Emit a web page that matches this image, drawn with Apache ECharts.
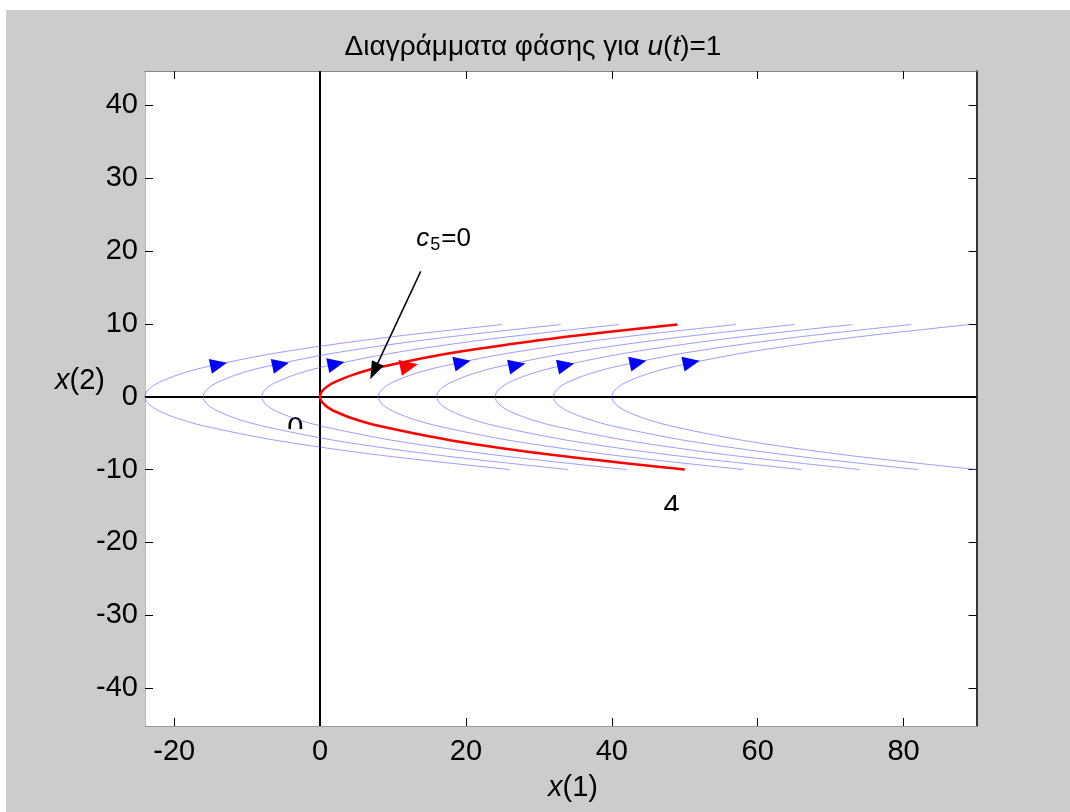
<!DOCTYPE html>
<html>
<head>
<meta charset="utf-8">
<script src="https://cdn.jsdelivr.net/npm/echarts@6/dist/echarts.min.js"></script>
<style>
html, body { margin: 0; padding: 0; background: #fff; }
#frame { position: absolute; left: 6px; top: 10px; width: 1064px; height: 802px; background: #cccccc; }
#chart { position: absolute; left: 0; top: 0; width: 1070px; height: 812px; }
</style>
</head>
<body>
<div id="frame"></div>
<div id="chart"></div>
<script>
const xTicks = [-20, 0, 20, 40, 60, 80]
const yTicks = [-40, -30, -20, -10, 0, 10, 20, 30, 40]

// one trajectory: x(1), x(2), vertex at the origin
const shapeX1 = [50, 32, 18, 8, 4.5, 2, 1.125, 0.5, 0.125, 0, 0.125, 0.5, 1.125, 2, 4.5, 8, 18, 32, 49]
const shapeX2 = [-10, -8, -6, -4, -3, -2, -1.5, -1, -0.5, 0, 0.5, 1, 1.5, 2, 3, 4, 6, 8, 9.9]

// where each trajectory crosses x(2)=0
const blueVertices = [-24, -16, -8, 8, 16, 24, 32, 40]
const redVertex = 0

// direction markers
const blueArrowX1 = [-13.9, -5.4, 2.2, 19.5, 27, 33.7, 43.6, 50.9]
const blueArrowX2 = [4.4, 4.4, 4.5, 4.7, 4.3, 4.3, 4.7, 4.7]
const redArrowX1 = [12.2]
const redArrowX2 = [4.2]

// c5=0 annotation
const noteFrom = [13.8, 17.2]
const noteTo = [7.4, 3.5]
const notePos = [13.2, 21.7]

const font = '"Liberation Sans", Arial, Helvetica, sans-serif'
const chart = echarts.init(document.getElementById('chart'))

const curve = (v) => shapeX1.map((x1, i) => [x1 + v, shapeX2[i]])
const zip = (a, b) => a.map((v, i) => [v, b[i]])

const blueLine = { color: 'rgba(90,90,255,0.6)', width: 1 }

const series = blueVertices.map((v) => ({
  type: 'line',
  data: curve(v),
  showSymbol: false,
  smooth: 0.3,
  silent: true,
  lineStyle: blueLine,
}))

// zero lines
series[0].markLine = {
  silent: true,
  symbol: 'none',
  z: 1,
  label: { show: false },
  lineStyle: { color: '#000', width: 2, type: 'solid' },
  data: [{ yAxis: 0 }, { xAxis: 0 }],
}

series.push({
  type: 'line',
  data: curve(redVertex),
  showSymbol: false,
  smooth: 0.3,
  silent: true,
  z: 3,
  lineStyle: { color: '#ff0000', width: 2.5 },
})

series.push({
  type: 'scatter',
  data: zip(blueArrowX1, blueArrowX2),
  symbol: 'triangle',
  symbolSize: [15, 17],
  symbolRotate: -78,
  silent: true,
  z: 4,
  itemStyle: { color: '#0000ff', opacity: 1 },
})

series.push({
  type: 'scatter',
  data: zip(redArrowX1, redArrowX2),
  symbol: 'triangle',
  symbolSize: [16, 18],
  symbolRotate: -78,
  silent: true,
  z: 4,
  itemStyle: { color: '#ff0000', opacity: 1 },
})

// annotation arrow
series.push({
  type: 'scatter',
  data: [],
  silent: true,
  z: 5,
  markLine: {
    silent: true,
    symbol: ['none', 'triangle'],
    symbolSize: [13, 18],
    label: { show: false },
    lineStyle: { color: '#000', width: 1.5, type: 'solid' },
    data: [[{ coord: noteFrom }, { coord: noteTo }]],
  },
})

const tickStyle = { inside: true, length: 8, lineStyle: { color: '#000', width: 1 } }

chart.setOption({
  animation: false,
  grid: { left: 145, right: 93.5, top: 71, bottom: 86, show: true, backgroundColor: '#fff', borderWidth: 0 },
  xAxis: [
    {
      type: 'value', min: -24, max: 90, position: 'bottom',
      axisLine: { onZero: false, lineStyle: { color: '#999', width: 1 } },
      axisTick: { ...tickStyle, customValues: xTicks },
      axisLabel: { customValues: xTicks, color: '#000', fontSize: 29, fontFamily: font, margin: 11 },
      splitLine: { show: false },
    },
    {
      type: 'value', min: -24, max: 90, position: 'top',
      axisLine: { onZero: false, lineStyle: { color: '#888', width: 1 } },
      axisTick: { ...tickStyle, customValues: xTicks },
      axisLabel: { show: false },
      splitLine: { show: false },
    },
  ],
  yAxis: [
    {
      type: 'value', min: -45.2, max: 44.7, position: 'left',
      axisLine: { show: true, onZero: false, lineStyle: { color: '#bbb', width: 1 } },
      axisTick: { ...tickStyle, customValues: yTicks },
      axisLabel: { customValues: yTicks, color: '#000', fontSize: 29, fontFamily: font, margin: 7 },
      splitLine: { show: false },
    },
    {
      type: 'value', min: -45.2, max: 44.7, position: 'right',
      axisLine: { show: true, onZero: false, lineStyle: { color: '#000', width: 1.5 } },
      axisTick: { ...tickStyle, customValues: yTicks },
      axisLabel: { show: false },
      splitLine: { show: false },
    },
  ],
  series,
})

// half-hidden labels inside the plot ("0" and "4" cut through the middle)
const cutLabels = [
  { text: '0', at: [-3.4, -4.45], cut: -4.45 },
  { text: '4', at: [48.2, -15.19], cut: -15.7 },
]

const italicRich = (size) => ({ i: { fontStyle: 'italic', fontSize: size, fontFamily: font, fill: '#000' } })

const graphics = [
  {
    type: 'text', x: 533, y: 47, z: 10,
    style: {
      text: 'Διαγράμματα φάσης για {i|u}({i|t})=1',
      font: '28px ' + font, fill: '#000', align: 'center', verticalAlign: 'middle',
      rich: italicRich(28),
    },
  },
  {
    type: 'text', x: 573, y: 788, z: 10,
    style: {
      text: '{i|x}(1)',
      font: '29px ' + font, fill: '#000', align: 'center', verticalAlign: 'middle',
      rich: italicRich(29),
    },
  },
  {
    type: 'text', x: 80, y: 381, z: 10,
    style: {
      text: '{i|x}(2)',
      font: '29px ' + font, fill: '#000', align: 'center', verticalAlign: 'middle',
      rich: italicRich(29),
    },
  },
]

// c5=0 text
const np = chart.convertToPixel({ gridIndex: 0 }, notePos)
graphics.push({
  type: 'text', x: np[0], y: np[1], z: 10,
  style: {
    text: '{c|c}{s|5}{n|=0}',
    font: '26px ' + font, fill: '#000', align: 'left', verticalAlign: 'middle',
    rich: {
      c: { fontStyle: 'italic', fontSize: 26, fontFamily: font, fill: '#000', lineHeight: 30 },
      s: { fontSize: 18, fontFamily: font, fill: '#000', lineHeight: 18, verticalAlign: 'bottom', padding: [0, 1, 0, 1] },
      n: { fontSize: 26, fontFamily: font, fill: '#000', lineHeight: 30 },
    },
  },
})

cutLabels.forEach((l) => {
  const p = chart.convertToPixel({ gridIndex: 0 }, l.at)
  const c = chart.convertToPixel({ gridIndex: 0 }, [l.at[0], l.cut])
  graphics.push({
    type: 'text', x: p[0], y: p[1], z: 1, z2: 0,
    style: { text: l.text, font: '29px ' + font, fill: '#000', align: 'center', verticalAlign: 'middle' },
  })
  graphics.push({
    type: 'rect', z: 1, z2: 5,
    shape: { x: p[0] - 14, y: c[1], width: 28, height: 18 },
    style: { fill: '#fff' },
  })
})

chart.setOption({ graphic: graphics })
</script>
</body>
</html>
